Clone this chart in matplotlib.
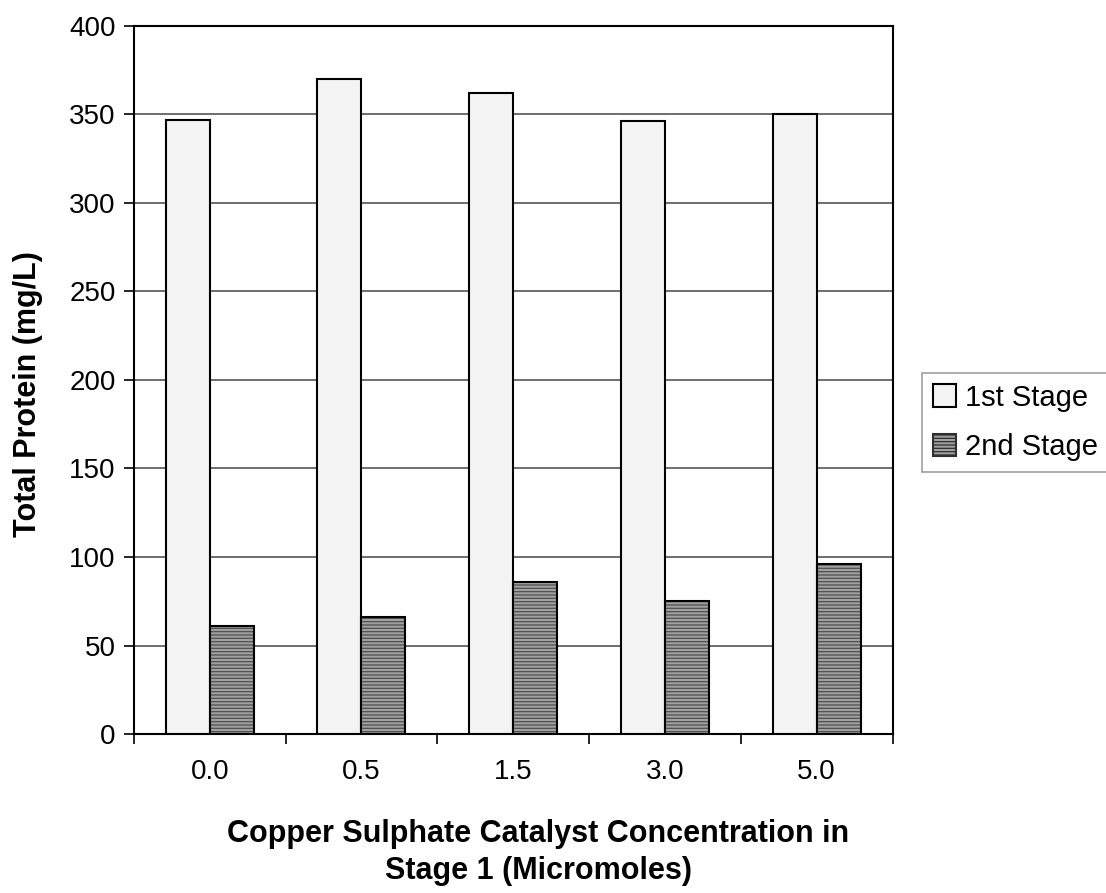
import matplotlib.pyplot as plt
import numpy as np
from matplotlib.patches import Patch

plt.rcParams['font.family'] = ['Liberation Sans', 'DejaVu Sans']
plt.rcParams['hatch.linewidth'] = 0.9

categories = ['0.0', '0.5', '1.5', '3.0', '5.0']
stage1 = [347, 370, 362, 346, 350]
stage2 = [61, 66, 86, 75, 96]

fig = plt.figure(figsize=(11.06, 8.93), dpi=100)
ax = fig.add_axes([0.121, 0.178, 0.686, 0.793])

x = np.arange(len(categories))
w = 0.29
ax.bar(x - w / 2, stage1, w, color='#f3f3f3', edgecolor='black', linewidth=1.5,
       label='1st Stage', zorder=3)
# hatched fill, then black outline on top
ax.bar(x + w / 2, stage2, w, color='#a0a0a0', edgecolor='#505050', linewidth=0,
       hatch='-----', zorder=3)
ax.bar(x + w / 2, stage2, w, fill=False, edgecolor='black', linewidth=1.5, zorder=4)

ax.set_xlim(-0.5, len(categories) - 0.5)
ax.set_ylim(0, 400)
ax.set_yticks(range(0, 401, 50))
ax.yaxis.grid(True, color='#555555', linewidth=1.2, zorder=0)
ax.set_xticks(x)
ax.set_xticklabels(categories)
ax.tick_params(axis='x', length=0, labelsize=20, pad=18)
ax.set_xticks(np.arange(-0.5, len(categories)), minor=True)
ax.tick_params(axis='x', which='minor', length=7, width=1.2, direction='out')
ax.tick_params(axis='y', labelsize=20, length=7, width=1.2, direction='out', pad=6)
for s in ax.spines.values():
    s.set_linewidth(1.5)

ax.set_ylabel('Total Protein (mg/L)', fontsize=22, fontweight='bold')
ax.yaxis.set_label_coords(-0.12, 0.48)
ax.set_xlabel('Copper Sulphate Catalyst Concentration in\nStage 1 (Micromoles)',
              fontsize=22, fontweight='bold', linespacing=1.3)
ax.xaxis.set_label_coords(0.533, -0.12)

handles = [Patch(facecolor='#f3f3f3', edgecolor='black', linewidth=1.5),
           Patch(facecolor='#a0a0a0', edgecolor='#303030', hatch='-----', linewidth=1.5)]
leg = ax.legend(handles, ['1st Stage', '2nd Stage'], loc='center left',
                bbox_to_anchor=(1.02, 0.44), fontsize=21,
                fancybox=False, handlelength=0.8, handleheight=0.8,
                handletextpad=0.3, borderpad=0.35, labelspacing=0.75)
leg.get_frame().set_edgecolor('#888888')
leg.get_frame().set_linewidth(1.2)

fig.savefig('out.png', dpi=100)
